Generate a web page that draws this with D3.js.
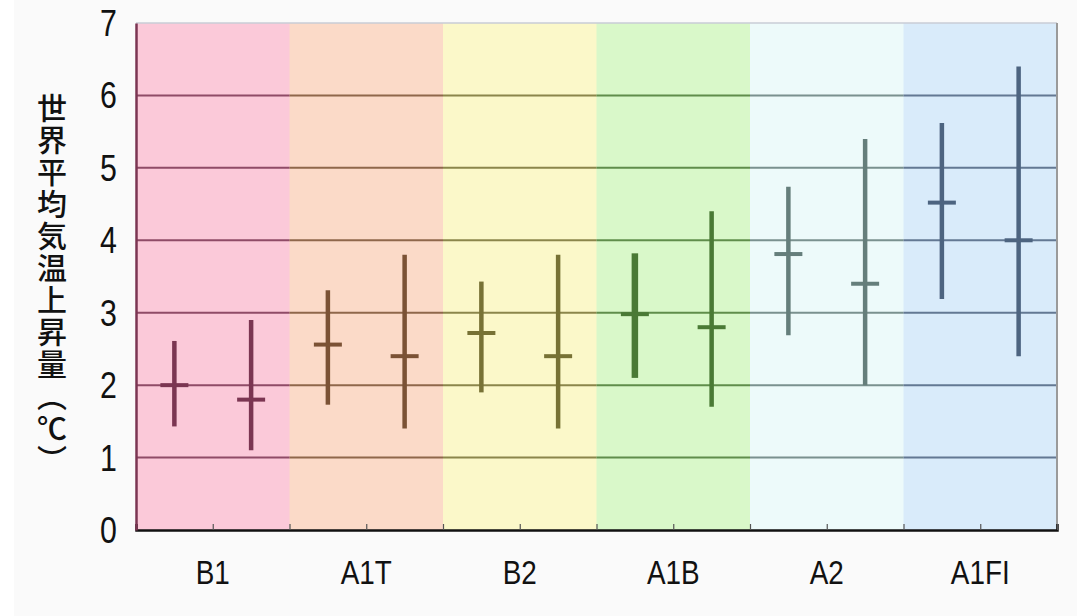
<!DOCTYPE html>
<html>
<head>
<meta charset="utf-8">
<script src="https://cdn.jsdelivr.net/npm/d3@7"></script>
<style>
  html, body { margin: 0; padding: 0; background: #fafafa; }
  svg { display: block; }
  .ytitle { writing-mode: vertical-rl; text-orientation: upright; }
</style>
</head>
<body>
<svg id="chart" width="1077" height="616"></svg>
<script>
// Emission scenarios along the x axis
const scenarios = ["B1", "A1T", "B2", "A1B", "A2", "A1FI"];

// First estimate per scenario: best value and range (°C)
const best1 = [2.0, 2.56, 2.72, 2.98, 3.81, 4.52];
const low1  = [1.43, 1.73, 1.90, 2.10, 2.69, 3.19];
const high1 = [2.61, 3.31, 3.43, 3.82, 4.74, 5.62];

// Second estimate per scenario: best value and likely range (°C)
const best2 = [1.8, 2.4, 2.4, 2.8, 3.4, 4.0];
const low2  = [1.1, 1.4, 1.4, 1.7, 2.0, 2.4];
const high2 = [2.9, 3.8, 3.8, 4.4, 5.4, 6.4];

// Y axis tick values
const yTicks = [0, 1, 2, 3, 4, 5, 6, 7];

// Band fills and mark colours per scenario
const bandFill = ["#fbc9d9", "#fbdac8", "#fbf8c9", "#d9f8c9", "#edfafa", "#d9ebfa"];
const markColor = ["#7b3552", "#7b5235", "#777235", "#4a7a35", "#657e7b", "#4d6480"];

const svg = d3.select("#chart");
const W = 1077, H = 616;
const m = { left: 136, right: 20, top: 23, bottom: 86 };
const plotW = W - m.left - m.right;
const plotH = H - m.top - m.bottom;

svg.append("rect").attr("width", W).attr("height", H).attr("fill", "#fafafa");
svg.append("rect").attr("width", 14).attr("height", H).attr("fill", "#ffffff");

const g = svg.append("g").attr("transform", `translate(${m.left},${m.top})`);

const x = d3.scaleBand().domain(scenarios).range([0, plotW]).paddingInner(0).paddingOuter(0);
const xHalf = d3.scaleLinear().domain([0, scenarios.length]).range([0, plotW]);
const sub = d3.scalePoint().domain([0, 1]).range([x.bandwidth() * 0.25, x.bandwidth() * 0.75]);
const y = d3.scaleLinear().domain([0, 7]).range([plotH, 0]);

// Coloured background bands
g.selectAll("rect.band").data(scenarios).join("rect")
  .attr("class", "band")
  .attr("x", d => x(d)).attr("y", 0)
  .attr("width", x.bandwidth() + 0.5).attr("height", plotH)
  .attr("fill", (d, i) => bandFill[i]);

// Top edge
g.append("line").attr("x1", 0).attr("x2", plotW).attr("y1", y(7)).attr("y2", y(7))
  .attr("stroke", "#c9cdd6").attr("stroke-width", 1.5);

// Horizontal grid lines, tinted per band
const gridVals = yTicks.filter(v => v > 0 && v < 7);
scenarios.forEach((s, i) => {
  g.selectAll(null).data(gridVals).join("line")
    .attr("x1", x(s)).attr("x2", x(s) + x.bandwidth())
    .attr("y1", d => y(d)).attr("y2", d => y(d))
    .attr("stroke", markColor[i]).attr("stroke-opacity", 0.85).attr("stroke-width", 2);
});

// Right edge
g.append("line").attr("x1", plotW).attr("x2", plotW).attr("y1", 0).attr("y2", plotH)
  .attr("stroke", "#9a9a9a").attr("stroke-width", 2);

// Range bars with best-estimate cross marks
const series = [
  { best: best1, low: low1, high: high1, w: [4.5, 4.5, 4.5, 6.5, 4.5, 4.5] },
  { best: best2, low: low2, high: high2, w: [4.5, 4.5, 4.5, 4.5, 4.5, 4.5] }
];
series.forEach((sr, k) => {
  const gg = g.append("g");
  gg.selectAll("line.range").data(scenarios).join("line")
    .attr("class", "range")
    .attr("x1", d => x(d) + sub(k)).attr("x2", d => x(d) + sub(k))
    .attr("y1", (d, i) => y(sr.high[i])).attr("y2", (d, i) => y(sr.low[i]))
    .attr("stroke", (d, i) => markColor[i]).attr("stroke-width", (d, i) => sr.w[i]);
  gg.selectAll("line.best").data(scenarios).join("line")
    .attr("class", "best")
    .attr("x1", d => x(d) + sub(k) - 14).attr("x2", d => x(d) + sub(k) + 14)
    .attr("y1", (d, i) => y(sr.best[i])).attr("y2", (d, i) => y(sr.best[i]))
    .attr("stroke", (d, i) => markColor[i]).attr("stroke-width", 4);
});

// Bottom axis with ticks at band edges and mid-points
const xAxis = d3.axisBottom(xHalf)
  .tickValues(d3.range(0, scenarios.length + 0.01, 0.5))
  .tickSize(-6).tickFormat("");
const xa = g.append("g").attr("transform", `translate(0,${plotH})`).call(xAxis);
xa.select(".domain").attr("stroke", "#111").attr("stroke-width", 2.5);
xa.selectAll(".tick line").attr("stroke", "#555").attr("stroke-width", 1.2);

// Scenario labels
g.selectAll("text.xl").data(scenarios).join("text")
  .attr("class", "xl")
  .attr("transform", d => `translate(${x(d) + x.bandwidth() / 2},${plotH + 54}) scale(0.82,1)`)
  .attr("text-anchor", "middle")
  .attr("font-family", "Liberation Sans, Arial, sans-serif")
  .attr("font-size", 34)
  .attr("fill", "#111")
  .text(d => d);

// Left axis
const yAxis = d3.axisLeft(y).tickValues(yTicks).tickSize(0).tickFormat("");
const ya = g.append("g").call(yAxis);
ya.select(".domain").attr("stroke", markColor[0]).attr("stroke-width", 2.5);

g.selectAll("text.yl").data(yTicks).join("text")
  .attr("class", "yl")
  .attr("transform", d => `translate(-19,${y(d) + 13}) scale(0.82,1)`)
  .attr("text-anchor", "end")
  .attr("font-family", "Liberation Sans, Arial, sans-serif")
  .attr("font-size", 37)
  .attr("fill", "#111")
  .text(d => d);

// Vertical axis title, set top-to-bottom with vertical bracket forms
svg.append("text")
  .attr("class", "ytitle")
  .attr("x", 52)
  .attr("y", 93)
  .attr("font-family", "Noto Sans CJK JP, sans-serif")
  .attr("font-size", 30)
  .attr("font-weight", 500)
  .attr("letter-spacing", 2)
  .attr("fill", "#111")
  .text("世界平均気温上昇量︵℃︶");
</script>
</body>
</html>
